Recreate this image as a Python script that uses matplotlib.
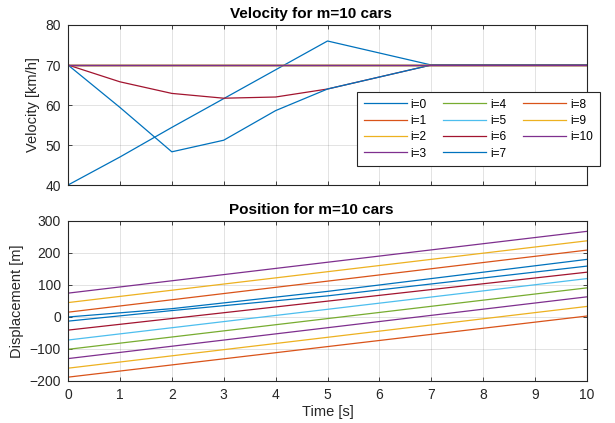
import numpy as np
import matplotlib.pyplot as plt

plt.rcParams['font.family'] = ['Liberation Sans', 'DejaVu Sans']

# MATLAB default line colours
COLORS = ['#0072BD', '#D95319', '#EDB120', '#7E2F8E', '#77AC30', '#4DBEEE', '#A2142F']
AX_COLOR = '#262626'

# --- Data ---
t = [0, 1, 2, 3, 4, 5, 6, 7, 8, 9, 10]
v_const = [70] * 11
vel = {
    0: [40, 47.0, 54.4, 61.6, 68.8, 76.0, 73.0, 70, 70, 70, 70],
    6: [70, 65.8, 62.9, 61.7, 62.0, 64.0, 67.0, 70, 70, 70, 70],
    7: [70, 59.4, 48.3, 51.2, 58.6, 64.0, 67.0, 70, 70, 70, 70],
}

# displacement: (times, values) per car
pos_t_blue = [0, 2, 5, 10]
pos_i0 = [0, 26, 80, 180]
pos_i7 = [-13, 20, 66, 159]
pos_start = [None, -188, -160, -130, -101, -72, -41, None, 15, 45, 74.5]
pos_end = [None, 3, 33, 63, 91, 120, 140, None, 209, 238, 267.6]

fig = plt.figure(figsize=(6.15, 4.23), dpi=100)
ax1 = fig.add_axes([0.1106, 0.5626, 0.8439, 0.3783])
ax2 = fig.add_axes([0.1106, 0.0993, 0.8439, 0.3783])


def style(ax):
    ax.grid(True, color=AX_COLOR, alpha=0.15, linewidth=0.6)
    ax.set_axisbelow(True)
    ax.tick_params(direction='in', length=3, width=0.6, colors=AX_COLOR,
                   labelsize=10, top=True, right=True, labeltop=False, labelright=False)
    ax.tick_params(axis='x', pad=5)
    ax.tick_params(axis='y', pad=5)
    for s in ax.spines.values():
        s.set_color(AX_COLOR)
        s.set_linewidth(0.8)
    ax.set_xlim(0, 10)
    ax.set_xticks(range(11))


for i in range(11):
    y = vel.get(i, v_const)
    ax1.plot(t, y, color=COLORS[i % 7], linewidth=0.9, label=f'i={i}')
style(ax1)
ax1.set_ylim(40, 80)
ax1.set_yticks([40, 50, 60, 70, 80])
ax1.set_xticklabels([])
ax1.set_ylabel('Velocity [km/h]', fontsize=10.5, color=AX_COLOR, labelpad=4)
ax1.set_title('Velocity for m=10 cars', fontsize=11, fontweight='bold', pad=5, x=0.468)
leg = ax1.legend(ncol=3, loc='upper left', bbox_to_anchor=(0.557, 0.581),
                 fontsize=8.6, frameon=True, fancybox=False, borderpad=0.55,
                 handlelength=3.6, columnspacing=1.4, labelspacing=0.36,
                 handletextpad=0.33, borderaxespad=0)
leg.get_frame().set_edgecolor(AX_COLOR)
leg.get_frame().set_linewidth(0.8)
leg.get_frame().set_alpha(1)

for i in range(11):
    if i == 0:
        xs, ys = pos_t_blue, pos_i0
    elif i == 7:
        xs, ys = pos_t_blue, pos_i7
    else:
        xs, ys = [0, 10], [pos_start[i], pos_end[i]]
    ax2.plot(xs, ys, color=COLORS[i % 7], linewidth=0.9)
style(ax2)
ax2.set_ylim(-200, 300)
ax2.set_yticks(range(-200, 301, 100))
ax2.set_xlabel('Time [s]', fontsize=10.5, color=AX_COLOR, labelpad=2)
ax2.set_ylabel('Displacement [m]', fontsize=10.5, color=AX_COLOR, labelpad=4)
ax2.set_title('Position for m=10 cars', fontsize=11, fontweight='bold', pad=5, x=0.468)

fig.savefig('out.png', dpi=100)
